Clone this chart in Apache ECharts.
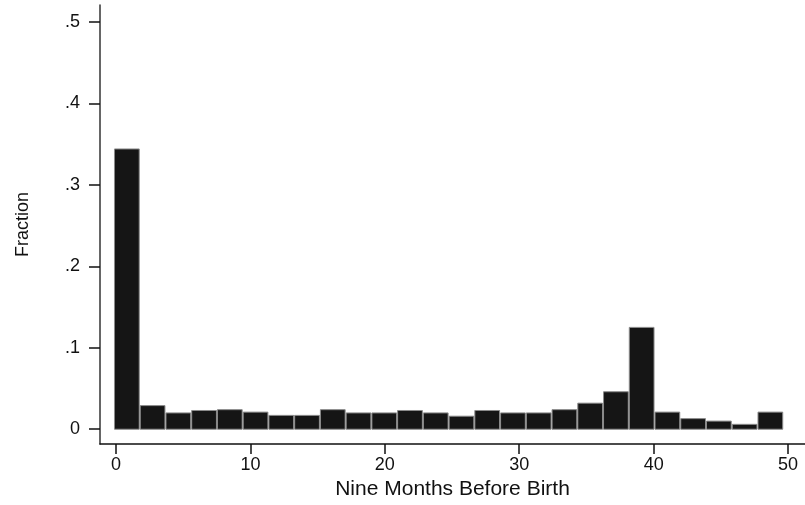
<!DOCTYPE html>
<html>
<head>
<meta charset="utf-8">
<script src="https://cdn.jsdelivr.net/npm/echarts@6/dist/echarts.min.js"></script>
<style>
html,body{margin:0;padding:0;background:#fff;}
#chart{width:805px;height:505px;}
</style>
</head>
<body>
<div id="chart"></div>
<script>
// Histogram data: fraction per bin (26 bins)
const fractions = [0.344, 0.029, 0.020, 0.023, 0.024, 0.021, 0.017, 0.017, 0.024, 0.020,
                   0.020, 0.023, 0.020, 0.016, 0.023, 0.020, 0.020, 0.024, 0.032, 0.046,
                   0.125, 0.021, 0.013, 0.010, 0.006, 0.021];
const binStart = -0.15;
const binWidth = 1.915;
const xTickValues = [0, 10, 20, 30, 40, 50];
const xTickLabels = ['0', '10', '20', '30', '40', '50'];
const yTickValues = [0, 0.1, 0.2, 0.3, 0.4, 0.5];
const yTickLabels = ['0', '.1', '.2', '.3', '.4', '.5'];
const xTitle = 'Nine Months Before Birth';
const yTitle = 'Fraction';

const barData = fractions.map((f, i) => [binStart + i * binWidth, binStart + (i + 1) * binWidth, f]);

const chart = echarts.init(document.getElementById('chart'), null, {renderer: 'canvas'});
const font = 'Liberation Sans, Arial, Helvetica, sans-serif';
chart.setOption({
  animation: false,
  backgroundColor: '#fff',
  grid: {left: 100, right: 0, top: 5, bottom: 57, containLabel: false},
  xAxis: {
    type: 'value',
    min: -1.19,
    max: 51.26,
    name: xTitle,
    nameLocation: 'middle',
    nameGap: 33,
    nameTextStyle: {fontFamily: font, fontSize: 21, color: '#111'},
    axisLine: {show: true, onZero: false, lineStyle: {color: '#111', width: 1.5}},
    axisTick: {show: true, length: 10, lineStyle: {color: '#111', width: 1.5}, customValues: xTickValues},
    axisLabel: {
      show: true, margin: 12, fontFamily: font, fontSize: 18, color: '#111',
      customValues: xTickValues,
      formatter: v => xTickLabels[xTickValues.indexOf(v)] ?? ''
    },
    splitLine: {show: false}
  },
  yAxis: {
    type: 'value',
    min: -0.01825,
    max: 0.5207,
    name: yTitle,
    nameLocation: 'middle',
    nameGap: 68,
    nameTextStyle: {fontFamily: font, fontSize: 18, color: '#111'},
    axisLine: {show: true, onZero: false, lineStyle: {color: '#333', width: 1.5}},
    axisTick: {show: true, length: 11, lineStyle: {color: '#111', width: 1.5}, customValues: yTickValues},
    axisLabel: {
      show: true, margin: 20, fontFamily: font, fontSize: 18, color: '#111',
      customValues: yTickValues,
      formatter: v => {
        let best = 0, bd = Infinity;
        yTickValues.forEach((t, i) => { const d = Math.abs(t - v); if (d < bd) { bd = d; best = i; } });
        return yTickLabels[best];
      }
    },
    splitLine: {show: false}
  },
  series: [{
    type: 'custom',
    data: barData,
    encode: {x: [0, 1], y: 2},
    renderItem: function (params, api) {
      const p0 = api.coord([api.value(0), api.value(2)]);
      const p1 = api.coord([api.value(1), 0]);
      return {
        type: 'rect',
        shape: {x: p0[0] + 0.5, y: p0[1], width: p1[0] - p0[0] - 1, height: p1[1] - p0[1]},
        style: {fill: '#151515', stroke: '#8a8a8a', lineWidth: 1}
      };
    }
  }]
});
</script>
</body>
</html>
